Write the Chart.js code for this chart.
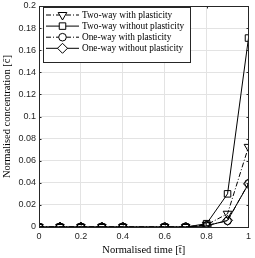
<!DOCTYPE html>
<html>
<head>
<meta charset="utf-8">
<script src="https://cdn.jsdelivr.net/npm/chart.js@4"></script>
<style>
html,body{margin:0;padding:0;background:#fff;}
#wrap{width:255px;height:258px;position:relative;}
</style>
</head>
<body>
<div id="wrap"><canvas id="canvas" width="255" height="258"></canvas></div>
<script>
// normalised time samples (no point at 0.5)
const times = [0, 0.1, 0.2, 0.3, 0.4, 0.6, 0.7, 0.8, 0.9, 1];
const twoWayPlastic = [0, 0, 0, 0, 0, 0, 0, 0.002, 0.012, 0.0725];
const twoWayElastic = [0, 0, 0, 0, 0, 0, 0, 0.003, 0.030, 0.171];
const oneWayPlastic = [0, 0, 0, 0, 0, 0, 0, 0.0015, 0.0055, 0.0395];
const oneWayElastic = [0, 0, 0, 0, 0, 0, 0, 0.001, 0.006, 0.039];
const seriesNames = ['Two-way with plasticity', 'Two-way without plasticity', 'One-way with plasticity', 'One-way without plasticity'];
const xTicks = [0, 0.2, 0.4, 0.6, 0.8, 1];
const yTicks = [0, 0.02, 0.04, 0.06, 0.08, 0.1, 0.12, 0.14, 0.16, 0.18, 0.2];

const dashDot = [5, 2, 1, 2];
function pts(vals){ return vals.map((v,i)=>({x:times[i],y:v})); }
function ds(label, vals, style, rot, dash, r){
    return {label:label, data:pts(vals), borderColor:'#000', borderWidth:1, borderDash:dash,
        pointStyle:style, rotation:rot, pointRadius:r, pointBorderColor:'#000', pointBorderWidth:1,
        pointBackgroundColor:'rgba(0,0,0,0)', fill:false, tension:0};
}
const sets = [
    ds(seriesNames[0], twoWayPlastic, 'triangle', 180, dashDot, 5),
    ds(seriesNames[1], twoWayElastic, 'rect', 0, [], 4.6),
    ds(seriesNames[2], oneWayPlastic, 'circle', 0, dashDot, 3.8),
    ds(seriesNames[3], oneWayElastic, 'rectRot', 0, [], 5)
];

const serif = '"Liberation Serif","DejaVu Serif",serif';
const sans = '"Liberation Sans",Arial,sans-serif';

const frame = {
    id:'frame',
    afterDraw(chart){
        const c = chart.ctx, a = chart.chartArea;
        const L = Math.round(a.left)+0.5, T = Math.round(a.top)+0.5, R = Math.round(a.right)+0.5, B = Math.round(a.bottom)+0.5;
        c.save();
        c.strokeStyle = '#262626'; c.lineWidth = 1;
        c.strokeRect(L, T, R-L, B-T);
        // inward tick marks
        c.beginPath();
        xTicks.forEach(v=>{ const x = Math.round(chart.scales.x.getPixelForValue(v))+0.5;
            c.moveTo(x,B); c.lineTo(x,B-2); c.moveTo(x,T); c.lineTo(x,T+2); });
        yTicks.forEach(v=>{ const y = Math.round(chart.scales.y.getPixelForValue(v))+0.5;
            c.moveTo(L,y); c.lineTo(L+2,y); c.moveTo(R,y); c.lineTo(R-2,y); });
        c.stroke();
        // labels
        c.fillStyle = '#000'; c.font = '10.5px ' + serif;
        c.textAlign = 'center'; c.textBaseline = 'middle';
        c.fillText('Normalised time [t\u0304]', (a.left+a.right)/2, 250);
        c.save();
        c.translate(7, (a.top+a.bottom)/2);
        c.rotate(-Math.PI/2);
        c.fillText('Normalised concentration [c\u0304]', 0, 0);
        c.restore();
        // legend
        const lx = 43, ly = 7, lw = 147, lh = 55;
        c.fillStyle = '#fff';
        c.fillRect(lx, ly, lw, lh);
        c.strokeStyle = '#262626';
        c.strokeRect(lx+0.5, ly+0.5, lw, lh);
        c.font = '9.3px ' + serif; c.textAlign = 'left';
        chart.data.datasets.forEach((d,i)=>{
            const y = ly + 8 + i*11.1;
            c.strokeStyle = '#000'; c.lineWidth = 1;
            c.setLineDash(d.borderDash);
            c.beginPath(); c.moveTo(lx+3, y); c.lineTo(lx+36, y); c.stroke();
            c.setLineDash([]);
            c.fillStyle = '#fff';
            Chart.helpers.drawPoint(c, {pointStyle:d.pointStyle, rotation:d.rotation, radius:d.pointRadius, borderWidth:1}, lx+19.5, y);
            c.fillStyle = '#000';
            c.fillText(d.label, lx+39, y+0.5);
        });
        c.restore();
    }
};

new Chart(document.getElementById('canvas'), {
    type:'line',
    data:{datasets:sets},
    options:{
        responsive:false, animation:false, devicePixelRatio:1,
        layout:{padding:{left:0, right:6, top:3, bottom:0}},
        plugins:{legend:{display:false}, tooltip:{enabled:false}},
        scales:{
            x:{type:'linear', min:0, max:1,
                afterBuildTicks(s){ s.ticks = xTicks.map(v=>({value:v})); },
                afterFit(s){ s.height = 31; },
                grid:{color:'#e3e3e3', drawTicks:false, lineWidth:1},
                border:{display:false},
                ticks:{color:'#262626', font:{family:sans, size:9}, padding:4, maxRotation:0,
                    callback:v=>String(v)}
            },
            y:{type:'linear', min:0, max:0.2,
                afterBuildTicks(s){ s.ticks = yTicks.map(v=>({value:v})); },
                afterFit(s){ s.width = 39; s.paddingTop = 0; s.paddingBottom = 0; },
                grid:{color:'#e3e3e3', drawTicks:false, lineWidth:1},
                border:{display:false},
                ticks:{color:'#262626', font:{family:sans, size:9}, padding:3,
                    callback:v=>String(Math.round(v*100)/100)}
            }
        }
    },
    plugins:[frame]
});
</script>
</body>
</html>
